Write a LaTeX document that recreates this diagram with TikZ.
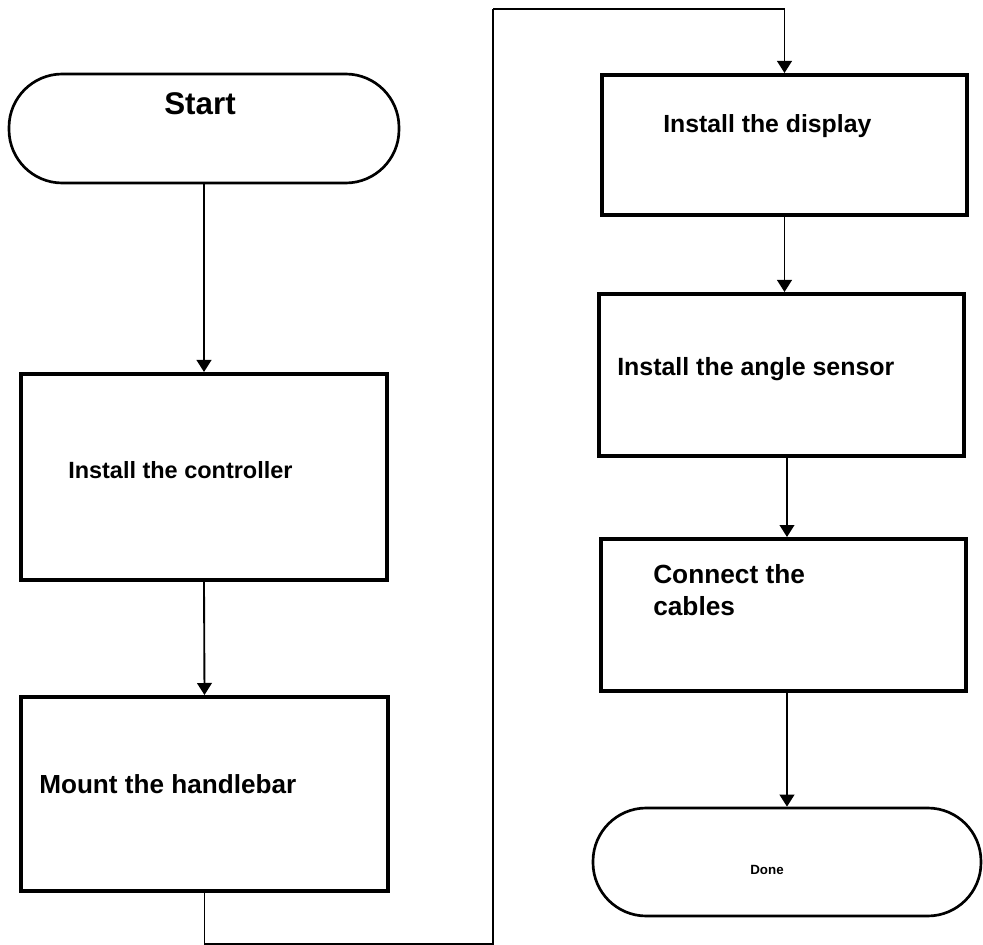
\documentclass[tikz,border=0pt]{standalone}
\usepackage{fontspec}
\setmainfont{Liberation Sans}
\usetikzlibrary{arrows.meta}
\tikzset{
  box/.style={draw, line width=3pt, rectangle, inner sep=0pt, fill=white},
  term/.style={draw, line width=2pt, rectangle, rounded corners=40pt, inner sep=0pt},
  lbl/.style={inner sep=0pt, anchor=base west, font=\bfseries},
  arr/.style={line width=1.4pt, -{Triangle[length=9pt,width=11pt]}},
  route/.style={line width=1.1pt}
}
\begin{document}
\begin{tikzpicture}[x=0.75pt,y=-0.75pt]
\useasboundingbox (0,0) rectangle (983,945);
% shapes
\node[term, minimum width=292.5pt, minimum height=81.75pt] (start) at (204,128.5) {};
\node[box, minimum width=274.5pt, minimum height=154.5pt] (ctrl) at (204,477) {};
\node[box, minimum width=275.25pt, minimum height=145.5pt] (hb) at (204.5,794) {};
\node[box, minimum width=273.75pt, minimum height=105pt] (disp) at (784.5,145) {};
\node[box, minimum width=273.75pt, minimum height=121.5pt] (ang) at (781.5,375) {};
\node[box, minimum width=273.75pt, minimum height=114pt] (cab) at (783.5,615) {};
\node[term, minimum width=291pt, minimum height=81pt] (done) at (787,862) {};
% texts
\node[inner sep=0pt, anchor=base, font=\bfseries\fontsize{23.5}{28}\selectfont] (tstart) at (200,115) {Start};
\node[lbl, font=\bfseries\fontsize{17.6}{21}\selectfont] (tctrl) at (68,478) {Install the controller};
\node[lbl, font=\bfseries\fontsize{19.6}{23}\selectfont] (thb) at (39,793) {Mount the handlebar};
\node[lbl, font=\bfseries\fontsize{18.6}{22}\selectfont] (tdisp) at (663,133) {Install the display};
\node[lbl, font=\bfseries\fontsize{18.7}{22}\selectfont] (tang) at (617,376) {Install the angle sensor};
\node[lbl, font=\bfseries\fontsize{19.7}{24}\selectfont, align=left] (tcab) at (653,615) {Connect the\\cables};
\node[inner sep=0pt, anchor=base, font=\bfseries\fontsize{10}{12}\selectfont] (tdone) at (767,874) {Done};
% connectors
\coordinate (t1) at (493,9);
\draw[arr] (start.south) -- (ctrl.north);
\draw[arr] (ctrl.south) -- (hb.north);
\draw[route] (hb.south) -- ++(0,51) -| (t1);
\draw[arr] (t1) -| (disp.north);
\draw[arr] (disp.south) -- (disp.south |- ang.north);
\draw[arr] (ang.south -| done.north) -- (cab.north -| done.north);
\draw[arr] (cab.south -| done.north) -- (done.north);
\end{tikzpicture}
\end{document}
